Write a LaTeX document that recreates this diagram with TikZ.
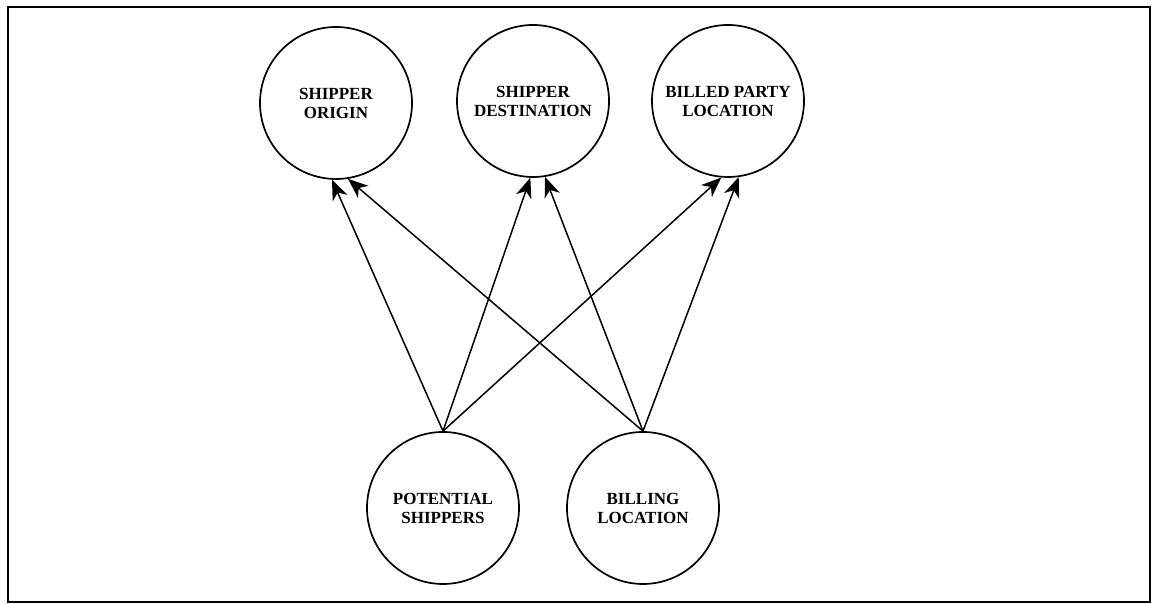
\documentclass[tikz,border=0pt]{standalone}
\usepackage{fontspec}
\setmainfont{Liberation Serif}
\usetikzlibrary{arrows.meta}
\begin{document}
\begin{tikzpicture}[x=0.5pt,y=0.5pt,
  entity/.style={circle, draw, line width=0.85pt, minimum size=76pt, inner sep=0pt,
    align=center, font=\fontsize{8.5}{9.5}\selectfont\bfseries},
  link/.style={line width=0.75pt, -{Stealth[length=10pt,width=8pt,inset=3pt]}}]
\useasboundingbox (0,0) rectangle (1153,604);
% outer frame
\draw[line width=1pt] (8,1.5) rectangle (1150,597);
% entities
\node[entity] (so) at (336,501) {SHIPPER\\ORIGIN};
\node[entity] (sd) at (533,503) {SHIPPER\\DESTINATION};
\node[entity] (bp) at (728,503) {BILLED PARTY\\LOCATION};
\node[entity] (ps) at (443,96) {POTENTIAL\\SHIPPERS};
\node[entity] (bl) at (643,96) {BILLING\\LOCATION};
% relationships
\draw[link] (ps.north) -- (so.267);
\draw[link] (bl.north) -- (so.279);
\draw[link] (ps.north) -- (sd.268);
\draw[link] (bl.north) -- (sd.279);
\draw[link] (ps.north) -- (bp.265);
\draw[link] (bl.north) -- (bp.278);
\end{tikzpicture}
\end{document}
